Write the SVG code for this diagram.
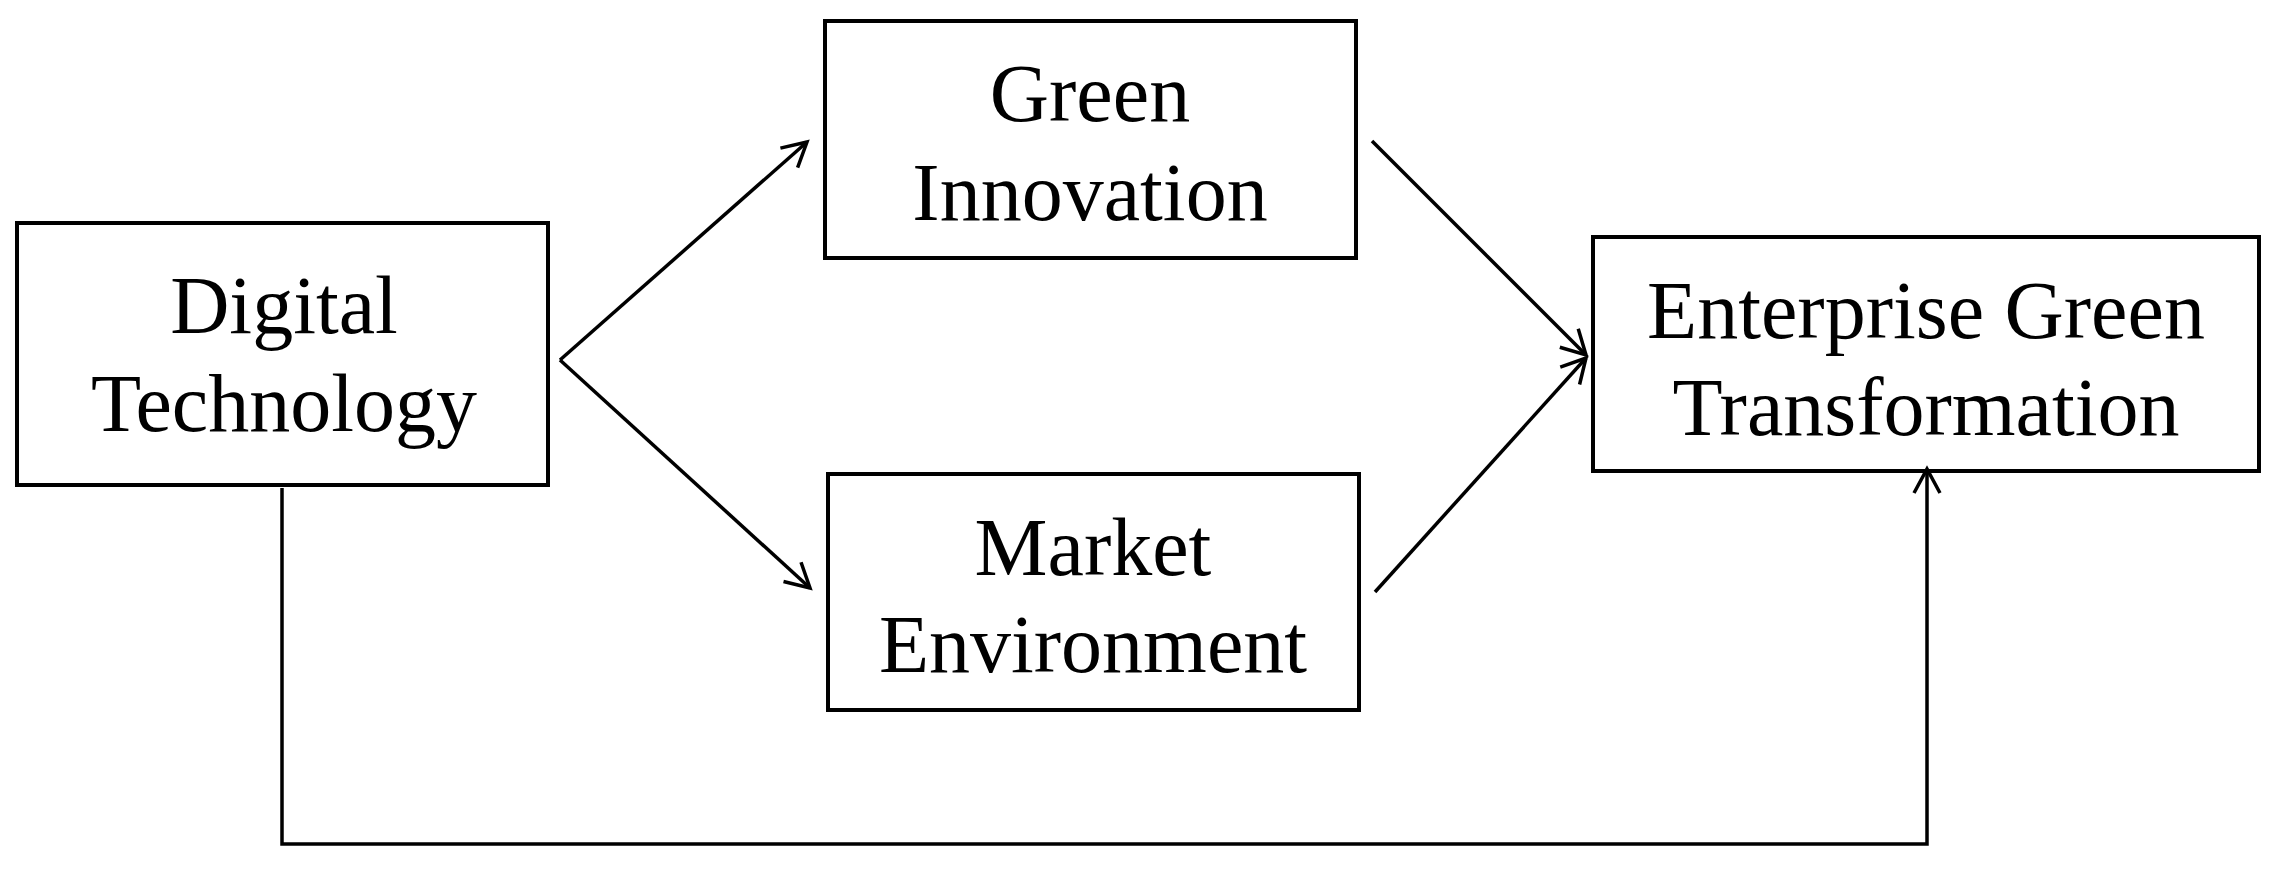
<svg xmlns="http://www.w3.org/2000/svg" width="2281" height="884" viewBox="0 0 2281 884">
<style>
.box{fill:#fff;stroke:#000;stroke-width:4}
.t{font-family:"Liberation Serif",serif;font-size:82px;text-anchor:middle;fill:#000}
.c{fill:none;stroke:#000;stroke-width:3.5}
</style>
<defs><marker id="a" markerWidth="30" markerHeight="30" refX="26" refY="15" orient="auto" markerUnits="userSpaceOnUse" viewBox="0 0 30 30"><path d="M2,2 L26,15 L2,28" fill="none" stroke="#000" stroke-width="3.5"/></marker></defs>
<rect width="2281" height="884" fill="#fff"/>
<g id="digital"><rect class="box" x="17" y="223" width="531" height="262"/><text class="t" x="284" y="333">Digital</text><text class="t" x="284" y="431">Technology</text></g>
<g id="green"><rect class="box" x="825" y="21" width="531" height="237"/><text class="t" x="1090" y="121">Green</text><text class="t" x="1090" y="220">Innovation</text></g>
<g id="market"><rect class="box" x="828" y="474" width="531" height="236"/><text class="t" x="1093" y="575">Market</text><text class="t" x="1093" y="672">Environment</text></g>
<g id="egt"><rect class="box" x="1593" y="237" width="666" height="234"/><text class="t" x="1926" y="338">Enterprise Green</text><text class="t" x="1926" y="435">Transformation</text></g>
<g id="connectors">
<path class="c" d="M560,360 L807,142" marker-end="url(#a)"/>
<path class="c" d="M560,360 L810,588" marker-end="url(#a)"/>
<path class="c" d="M1372,141 L1586,355" marker-end="url(#a)"/>
<path class="c" d="M1375,592 L1586,358" marker-end="url(#a)"/>
<path class="c" d="M282,488 L282,844 L1927,844 L1927,469" marker-end="url(#a)"/>
</g>
</svg>
